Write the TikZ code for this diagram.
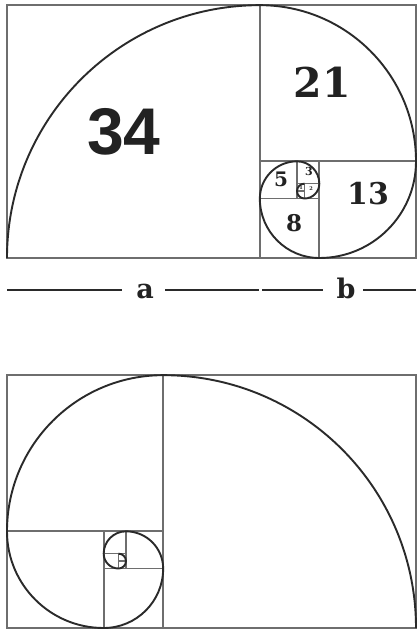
\documentclass[tikz,border=0pt]{standalone}
\usepackage{fontspec}
\newfontfamily\numsans{Liberation Sans}[Scale=1]
\newfontfamily\numserif{DejaVu Serif}
\definecolor{gridgray}{HTML}{6E6E6E}
\definecolor{spiralc}{HTML}{2A2A2A}
\definecolor{textc}{HTML}{222222}
\begin{document}
\begin{tikzpicture}[x=1pt,y=-1pt,
  gridline/.style={draw=gridgray,line width=1.7pt},
  spiralline/.style={draw=spiralc,line width=1.9pt},
  numlabel/.style={inner sep=0pt,text=textc},
  ablabel/.style={inner sep=0pt,text=textc,anchor=base,font=\numserif\bfseries\fontsize{27}{27}\selectfont},
  abline/.style={draw=spiralc,line width=1.6pt}]
\useasboundingbox[fill=white] (0,0) rectangle (419,634);
\tikzset{fibsquares/.pic={
  \draw[gridline] (0,0) rectangle (55,34);
  \draw[gridline] (34,0) -- (34,34);
  \draw[gridline] (34,13) -- (55,13);
  \draw[gridline] (42,0) -- (42,13);
  \draw[gridline] (34,8) -- (42,8);
  \draw[gridline] (39,8) -- (39,13);
  \draw[gridline] (39,10) -- (42,10);
  \draw[gridline] (40,8) -- (40,10);
  \draw[gridline] (39,9) -- (40,9);
  \draw[spiralline] (0,0) arc[start angle=180,end angle=90,radius=34]
     arc[start angle=90,end angle=0,radius=21]
     arc[start angle=0,end angle=-90,radius=13]
     arc[start angle=270,end angle=180,radius=8]
     arc[start angle=180,end angle=90,radius=5]
     arc[start angle=90,end angle=0,radius=3]
     arc[start angle=0,end angle=-90,radius=2]
     arc[start angle=270,end angle=180,radius=1]
     arc[start angle=180,end angle=90,radius=1];
}}
% top figure
\begin{scope}[shift={(7pt,-258pt)},x=7.43636pt,y=7.43636pt]
  \pic {fibsquares};
\end{scope}
% bottom figure (mirrored)
\begin{scope}[shift={(416pt,-628pt)},x=-7.43636pt,y=7.43636pt]
  \pic {fibsquares};
\end{scope}
% numbers
\node[numlabel,font=\numsans\bfseries\fontsize{66}{66}\selectfont] (n34) at (124,132) {34};
\node[numlabel,font=\numserif\bfseries\fontsize{41}{41}\selectfont] (n21) at (322,82) {21};
\node[numlabel,font=\numserif\bfseries\fontsize{30}{30}\selectfont] (n13) at (368,194) {13};
\node[numlabel,font=\numserif\bfseries\fontsize{23}{23}\selectfont] (n8) at (294,223) {8};
\node[numlabel,font=\numserif\bfseries\fontsize{20}{20}\selectfont] (n5) at (281,179) {5};
\node[numlabel,font=\numserif\bfseries\fontsize{11}{11}\selectfont] (n3) at (309,171) {3};
\node[numlabel,font=\numserif\bfseries\fontsize{5}{5}\selectfont] (n2) at (311,189) {2};
\node[numlabel,font=\numserif\bfseries\fontsize{5}{5}\selectfont] (n1) at (301,188) {1};
% a / b measure
\node[ablabel] (la) at (145,298) {a};
\node[ablabel] (lb) at (346,298) {b};
\coordinate (p0) at (7,290);
\coordinate (p1) at (122,290);
\coordinate (p2) at (165,290);
\coordinate (p3) at (259,290);
\coordinate (p4) at (262,290);
\coordinate (p5) at (323,290);
\coordinate (p6) at (363,290);
\coordinate (p7) at (416,290);
\draw[abline] (p0) -- (p1);
\draw[abline] (p2) -- (p3);
\draw[abline] (p4) -- (p5);
\draw[abline] (p6) -- (p7);
\end{tikzpicture}
\end{document}
